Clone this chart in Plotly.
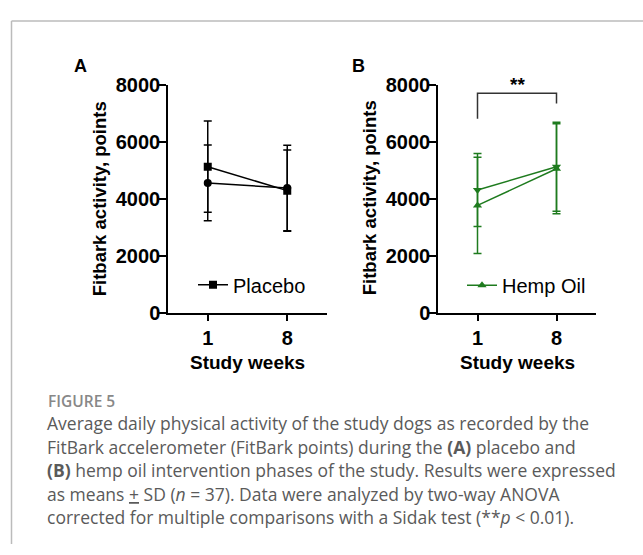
import plotly.graph_objects as go

W, H = 643, 555

weeks = ["1", "8"]

# Panel A (placebo)
placebo_sq_mean = [5120, 4280]
placebo_sq_sd = [1600, 1430]
placebo_ci_mean = [4550, 4370]
placebo_ci_sd = [1330, 1500]

# Panel B (hemp oil)
hemp_up_mean = [3760, 5050]
hemp_up_sd = [1690, 1580]
hemp_dn_mean = [4300, 5120]
hemp_dn_sd = [1280, 1560]

# significance bracket (data units)
bracket_y = [6800, 7700, 7700, 7340]
bracket_x = ["1", "1", "8", "8"]

yticks = [0, 2000, 4000, 6000, 8000]

BLACK = "#000000"
GREEN = "#1e7b1e"
FONT = "Liberation Sans, Arial, sans-serif"

fig = go.Figure()

def add_series(mean, sd, color, symbol, name, xa, ya, legend, show):
    fig.add_trace(go.Scatter(
        x=weeks, y=mean, mode="lines+markers", name=name,
        line=dict(color=color, width=1.5),
        marker=dict(symbol=symbol, size=8, color=color),
        error_y=dict(type="data", array=sd, visible=True, color=color,
                     thickness=1.5, width=4),
        xaxis=xa, yaxis=ya, legend=legend, showlegend=show,
    ))

add_series(placebo_ci_mean, placebo_ci_sd, BLACK, "circle", "Placebo (o)", "x", "y", "legend", False)
add_series(placebo_sq_mean, placebo_sq_sd, BLACK, "square", "Placebo", "x", "y", "legend", True)
add_series(hemp_dn_mean, hemp_dn_sd, GREEN, "triangle-down", "Hemp Oil (v)", "x2", "y2", "legend2", False)
add_series(hemp_up_mean, hemp_up_sd, GREEN, "triangle-up", "Hemp Oil", "x2", "y2", "legend2", True)

fig.add_trace(go.Scatter(
    x=bracket_x, y=bracket_y, mode="lines",
    line=dict(color="#333333", width=1.5),
    xaxis="x2", yaxis="y2", showlegend=False, hoverinfo="skip",
))

def px_x(p):
    return p / W

def px_y(p):
    return 1 - p / H

ydom = [px_y(314), px_y(76.7)]
axis_common = dict(
    showline=True, linecolor=BLACK, linewidth=1.5,
    ticks="outside", ticklen=7, tickwidth=1.5, tickcolor=BLACK,
    showgrid=False, zeroline=False,
    tickfont=dict(family=FONT, size=20, color=BLACK, weight="bold"),
)

fig.update_layout(
    width=W, height=H,
    margin=dict(l=0, r=0, t=0, b=0),
    paper_bgcolor="white", plot_bgcolor="white",
    xaxis=dict(domain=[px_x(168), px_x(327)], type="category",
               range=[-0.5, 1.5], anchor="y", **axis_common),
    yaxis=dict(domain=ydom, range=[0, 8000], tickvals=yticks,
               anchor="x", ticklabelstandoff=-5, **axis_common),
    xaxis2=dict(domain=[px_x(438), px_x(596)], type="category",
                range=[-0.5, 1.5], anchor="y2", **axis_common),
    yaxis2=dict(domain=ydom, range=[0, 8000], tickvals=yticks,
                anchor="x2", ticklabelstandoff=-5, **axis_common),
    legend=dict(x=px_x(193), y=px_y(285), xanchor="left", yanchor="middle",
                bgcolor="rgba(0,0,0,0)",
                font=dict(family=FONT, size=20, color=BLACK)),
    legend2=dict(x=px_x(462), y=px_y(285.5), xanchor="left", yanchor="middle",
                 bgcolor="rgba(0,0,0,0)",
                 font=dict(family=FONT, size=20, color=BLACK)),
    showlegend=True,
)

ann = []
def text(x, y, s, size, color=BLACK, weight="normal", family=FONT, anchor="center", angle=0):
    ann.append(dict(x=px_x(x), y=px_y(y), xref="paper", yref="paper", text=s,
                    showarrow=False, xanchor=anchor, yanchor="middle", textangle=angle,
                    font=dict(family=family, size=size, color=color, weight=weight)))

# panel labels
text(80.5, 57.5, "A", 18, weight="bold")
text(358, 57.5, "B", 18, weight="bold")
# axis titles
text(99, 195, "Fitbark activity, points", 18.5, weight="bold", angle=-90)
text(369, 195, "Fitbark activity, points", 18.5, weight="bold", angle=-90)
text(248, 366, "Study weeks", 19, weight="bold")
text(517, 366, "Study weeks", 19, weight="bold")
# significance stars
text(517, 77, "**", 19, weight="bold")

# caption
CAP = "Open Sans, sans-serif"
text(46, 406.5, "FIGURE 5", 15.5, color="#888888", weight=600, family=CAP, anchor="left")
cap_lines = [
    "Average daily physical activity of the study dogs as recorded by the",
    "FitBark accelerometer (FitBark points) during the <b>(A)</b> placebo and",
    "<b>(B)</b> hemp oil intervention phases of the study. Results were expressed",
    "as means <u>+</u> SD (<i>n</i> = 37). Data were analyzed by two-way ANOVA",
    "corrected for multiple comparisons with a Sidak test (**<i>p</i> &lt; 0.01).",
]
for i, line in enumerate(cap_lines):
    text(45, 429 + i * 24.5, line, 17.5, color="#5a5a5a", family=CAP, anchor="left")

fig.update_layout(annotations=ann)

# figure frame (top and left edges)
fig.add_shape(type="line", xref="paper", yref="paper", x0=px_x(11.5), x1=1.0,
              y0=px_y(10.5), y1=px_y(10.5), line=dict(color="#bbbbbb", width=1.5))
fig.add_shape(type="line", xref="paper", yref="paper", x0=px_x(11.5), x1=px_x(11.5),
              y0=px_y(10.5), y1=0, line=dict(color="#bbbbbb", width=1.5))

fig.write_html("out.html")
